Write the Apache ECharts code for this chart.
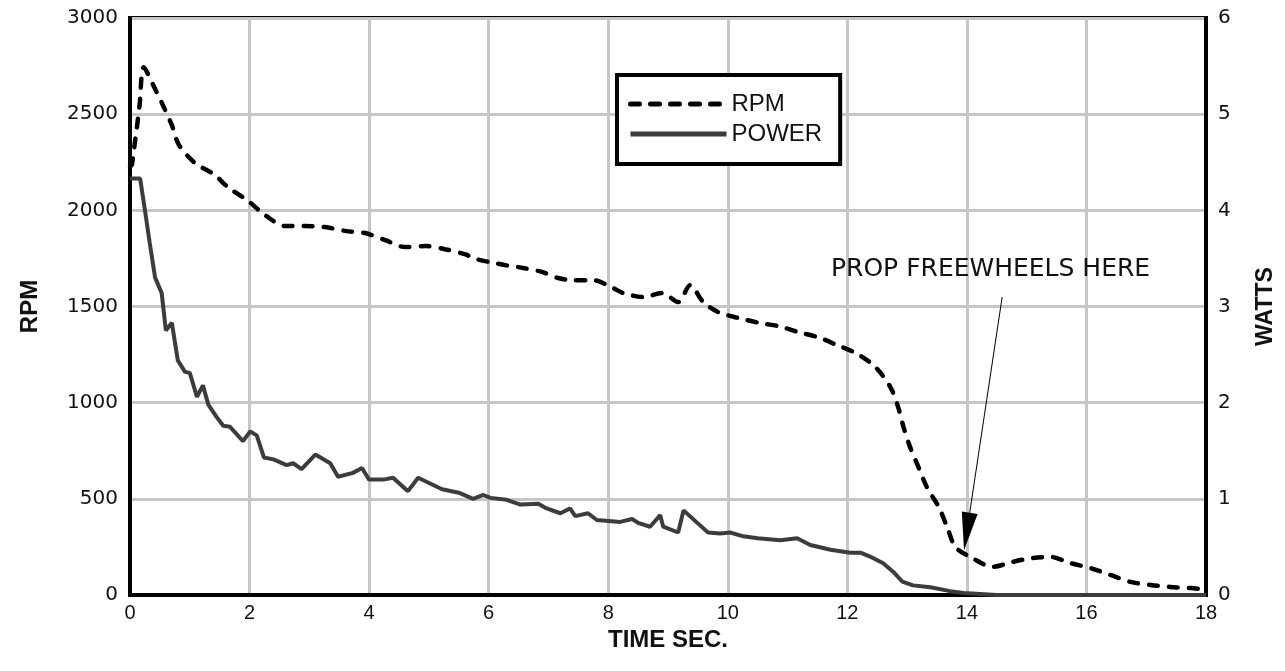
<!DOCTYPE html>
<html>
<head>
<meta charset="utf-8">
<script src="https://cdn.jsdelivr.net/npm/echarts@6/dist/echarts.min.js"></script>
<style>html,body{margin:0;padding:0;background:#fff}#c{width:1285px;height:671px}</style>
</head>
<body>
<div id="c"></div>
<script>
var xTicks = [0, 2, 4, 6, 8, 10, 12, 14, 16, 18];
var rpmTicks = [0, 500, 1000, 1500, 2000, 2500, 3000];
var wattTicks = [0, 1, 2, 3, 4, 5, 6];

var rpmTime = [0, 0.03, 0.08, 0.12, 0.16, 0.23, 0.39, 0.55, 0.70, 0.82, 1.09, 1.4, 1.64, 1.98, 2.26, 2.6, 2.93, 3.26, 3.62, 3.93, 4.27, 4.6, 4.94, 5.27, 5.6, 5.8, 6.1, 6.28, 6.58, 6.9, 7.16, 7.41, 7.75, 8.08, 8.25, 8.59, 8.9, 9.17, 9.37, 9.59, 9.84, 10.18, 10.54, 10.85, 11.18, 11.5, 11.83, 12.17, 12.47, 12.72, 12.85, 12.94, 13.05, 13.19, 13.33, 13.53, 13.67, 13.81, 14.09, 14.43, 14.76, 15.1, 15.4, 15.73, 16.07, 16.4, 16.74, 17.07, 17.4, 17.74, 17.95];
var rpmValues = [2230, 2235, 2349, 2443, 2547, 2744, 2650, 2547, 2443, 2339, 2245, 2188, 2120, 2048, 1975, 1918, 1918, 1913, 1892, 1882, 1845, 1809, 1814, 1798, 1772, 1746, 1726, 1715, 1700, 1679, 1648, 1637, 1637, 1596, 1570, 1549, 1570, 1523, 1611, 1523, 1471, 1440, 1414, 1398, 1367, 1341, 1299, 1253, 1185, 1081, 977, 873, 769, 665, 561, 457, 353, 249, 192, 146, 172, 192, 198, 166, 140, 104, 68, 52, 42, 36, 30];

var powerTime = [0, 0.17, 0.25, 0.33, 0.42, 0.53, 0.6, 0.7, 0.8, 0.92, 1.0, 1.12, 1.22, 1.31, 1.45, 1.56, 1.67, 1.89, 2.01, 2.12, 2.24, 2.4, 2.62, 2.73, 2.87, 3.1, 3.35, 3.48, 3.73, 3.88, 4.0, 4.24, 4.4, 4.65, 4.82, 5.02, 5.22, 5.52, 5.74, 5.91, 6.03, 6.3, 6.53, 6.83, 6.97, 7.2, 7.36, 7.45, 7.66, 7.81, 8.2, 8.4, 8.5, 8.7, 8.87, 8.92, 9.17, 9.26, 9.49, 9.67, 9.87, 10.04, 10.26, 10.5, 10.88, 11.16, 11.38, 11.72, 12.05, 12.22, 12.38, 12.6, 12.77, 12.92, 13.1, 13.39, 13.72, 13.95, 14.5, 16, 18];
var powerWatts = [4.33, 4.33, 4.0, 3.66, 3.3, 3.14, 2.75, 2.83, 2.44, 2.32, 2.31, 2.06, 2.18, 1.98, 1.85, 1.76, 1.75, 1.6, 1.7, 1.66, 1.43, 1.41, 1.35, 1.37, 1.31, 1.46, 1.37, 1.23, 1.27, 1.32, 1.2, 1.2, 1.22, 1.08, 1.22, 1.16, 1.1, 1.06, 1.0, 1.04, 1.01, 0.99, 0.94, 0.95, 0.9, 0.85, 0.9, 0.82, 0.85, 0.78, 0.76, 0.79, 0.75, 0.71, 0.83, 0.71, 0.65, 0.88, 0.75, 0.65, 0.64, 0.65, 0.61, 0.59, 0.57, 0.59, 0.52, 0.47, 0.44, 0.44, 0.4, 0.33, 0.24, 0.14, 0.1, 0.08, 0.04, 0.02, 0.0, 0.0, 0.0];

function zip(a, b) { return a.map(function (v, i) { return [v, b[i]]; }); }

var FONT = '"Liberation Sans", Arial, sans-serif';
var WIDE = '"DejaVu Sans", "Liberation Sans", sans-serif';
var chart = echarts.init(document.getElementById('c'), null, {renderer: 'canvas'});
chart.setOption({
  backgroundColor: '#fff',
  animation: false,
  grid: {left: 130, right: 79, top: 18, bottom: 76, show: true, borderColor: '#000', borderWidth: 4, backgroundColor: 'transparent'},
  legend: {
    left: 617, top: 75,
    orient: 'vertical',
    padding: [17, 18, 18, 11],
    itemGap: 6,
    itemWidth: 96, itemHeight: 24,
    borderColor: '#000', borderWidth: 4, backgroundColor: '#fff',
    itemStyle: {opacity: 0},
    lineStyle: {width: 5},
    textStyle: {fontFamily: FONT, fontSize: 24, color: '#111'},
    data: ['RPM', 'POWER']
  },
  xAxis: {
    type: 'value', min: 0, max: 18, interval: 2,
    name: 'TIME SEC.', nameLocation: 'middle', nameGap: 31,
    nameTextStyle: {fontFamily: FONT, fontSize: 24, fontWeight: 'bold', color: '#111'},
    axisLine: {show: true, lineStyle: {color: '#000', width: 4}},
    axisTick: {show: false},
    axisLabel: {fontFamily: FONT, fontSize: 20, color: '#111', margin: 8, formatter: function (v) { return xTicks.indexOf(v) >= 0 ? String(v) : ''; }},
    splitLine: {show: true, lineStyle: {color: '#c6c6c6', width: 3}}
  },
  yAxis: [{
    type: 'value', min: 0, max: 3000, interval: 500,
    name: 'RPM', nameLocation: 'middle', nameGap: 88, nameRotate: 90,
    nameTextStyle: {fontFamily: FONT, fontSize: 24, fontWeight: 'bold', color: '#111'},
    axisLine: {show: true, lineStyle: {color: '#000', width: 4}},
    axisTick: {show: false},
    axisLabel: {fontFamily: WIDE, fontSize: 20, color: '#111', margin: 12, formatter: function (v) { return rpmTicks.indexOf(v) >= 0 ? String(v) : ''; }},
    splitLine: {show: true, lineStyle: {color: '#c6c6c6', width: 3}}
  }, {
    type: 'value', min: 0, max: 6, interval: 1, position: 'right',
    name: 'WATTS', nameLocation: 'middle', nameGap: 48, nameRotate: 90,
    nameTextStyle: {fontFamily: FONT, fontSize: 23, fontWeight: 'bold', color: '#111'},
    axisLine: {show: true, lineStyle: {color: '#000', width: 4}},
    axisTick: {show: false},
    axisLabel: {fontFamily: WIDE, fontSize: 20, color: '#111', margin: 12, formatter: function (v) { return wattTicks.indexOf(v) >= 0 ? String(v) : ''; }},
    splitLine: {show: false}
  }],
  series: [{
    name: 'RPM', type: 'line', yAxisIndex: 0,
    data: zip(rpmTime, rpmValues),
    symbol: 'none', smooth: 0.3,
    lineStyle: {color: '#000', width: 4.5, type: [9, 11], cap: 'round'},
    itemStyle: {color: '#000'},
    z: 3,
    markLine: {
      silent: true, symbol: ['none', 'triangle'], symbolSize: [16, 38],
      lineStyle: {color: '#000', width: 1, type: 'solid'},
      label: {show: false},
      data: [[{coord: [14.59, 1549]}, {coord: [14.0, 330]}]]
    }
  }, {
    name: 'POWER', type: 'line', yAxisIndex: 1,
    data: zip(powerTime, powerWatts),
    symbol: 'none',
    lineStyle: {color: '#3c3c3c', width: 4},
    itemStyle: {color: '#3c3c3c'},
    z: 2
  }],
  graphic: [{
    type: 'text', left: 831, top: 257, z: 10,
    style: {text: 'PROP FREEWHEELS HERE', font: '25px "DejaVu Sans", "Liberation Sans", sans-serif', fill: '#111'}
  }]
});
</script>
</body>
</html>
